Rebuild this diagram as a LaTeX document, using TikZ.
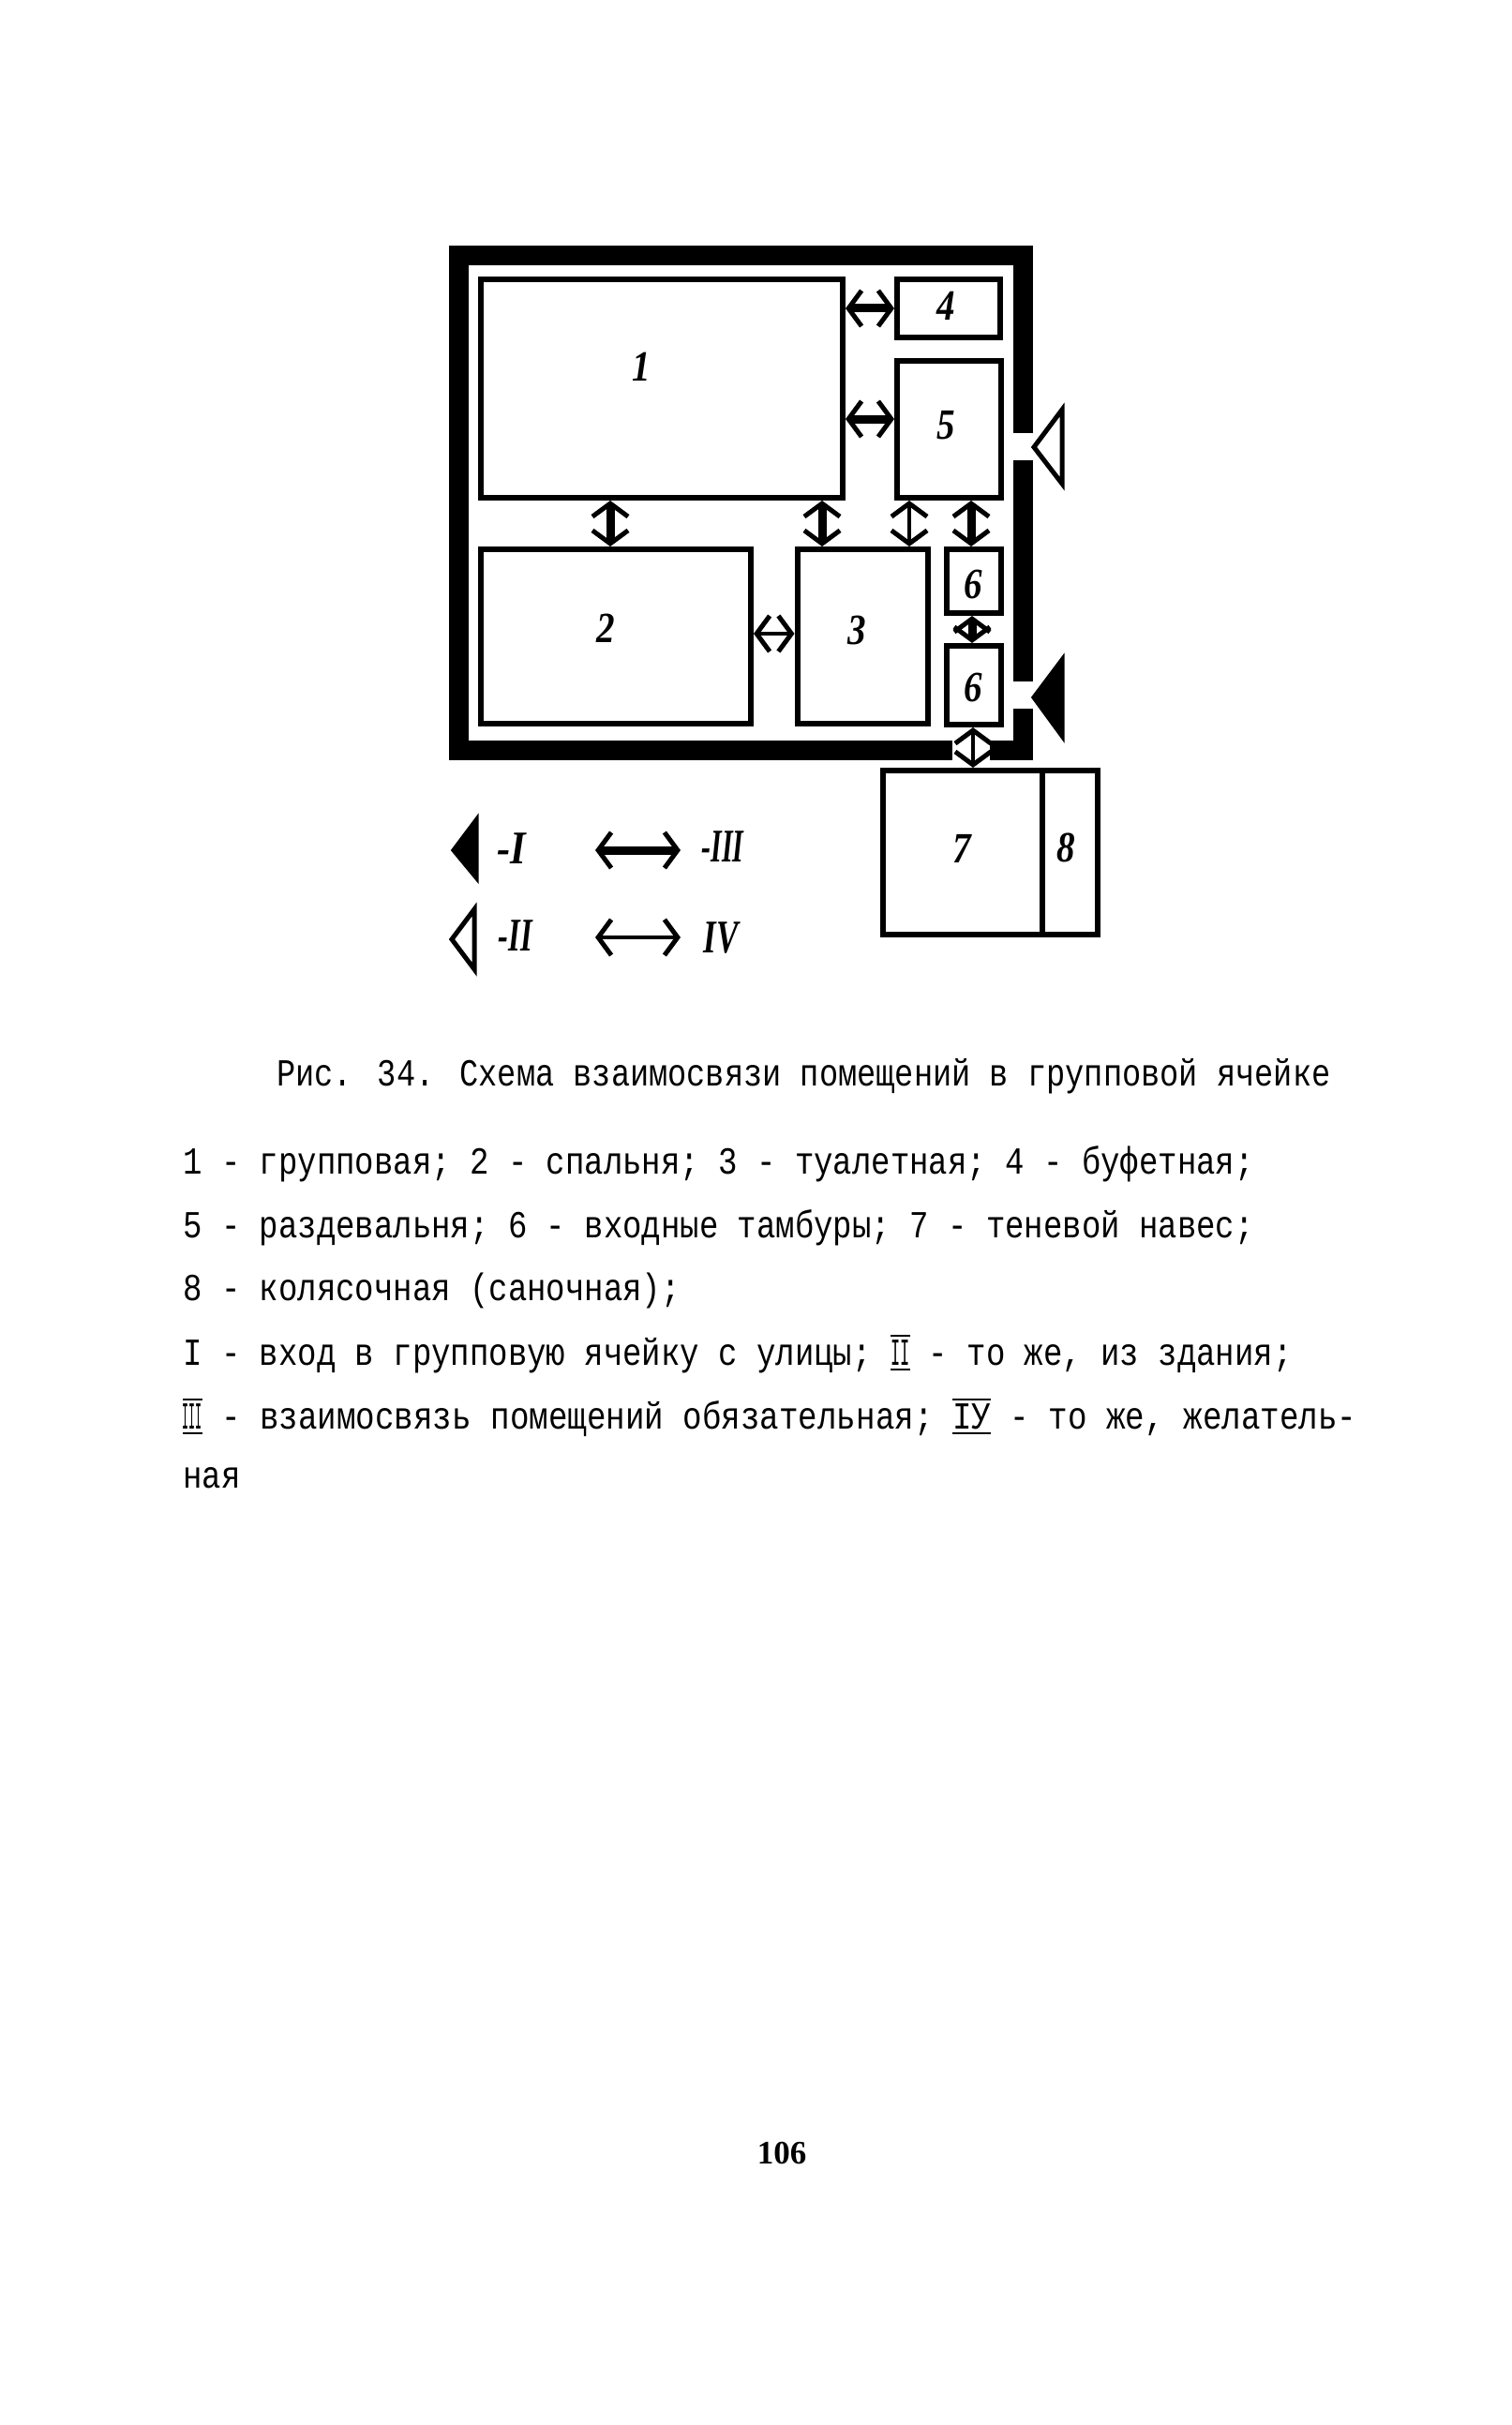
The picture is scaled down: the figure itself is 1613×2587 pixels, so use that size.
\documentclass[tikz,border=0pt]{standalone}
\usepackage{xcolor}
\usepackage{graphicx}
\usepackage{fontspec}
\usepackage{tikz}
\usetikzlibrary{positioning,arrows.meta,calc}
\setmainfont{Liberation Serif}
\newfontfamily\typewr{Liberation Mono}
\newcommand{\typeline}[2][1]{\scalebox{#1}[1.2]{\fontsize{34}{40}\selectfont\typewr #2}}
\newcommand{\ruled}[2]{\makebox[#1][l]{\rlap{\rule[-5pt]{#1}{2pt}}\rlap{\rule[25pt]{#1}{2pt}}\makebox[#1]{#2}}}

\begin{document}
\begin{tikzpicture}[
x=1pt,
y=-1pt,
room/.style={draw=black, line width=6pt, inner sep=0pt},
wall/.style={draw=black, line width=21pt, line join=miter},
num/.style={inner sep=0pt, xscale=.85, font=\fontsize{46}{46}\selectfont\bfseries\itshape},
roman/.style={inner sep=0pt, font=\fontsize{50}{50}\selectfont\bfseries\itshape},
entrance/.style={draw=black, line width=5pt, line join=miter},
linkmain/.style={{Straight Barb[length=14pt,width=38pt,line width=5pt]}-{Straight Barb[length=14pt,width=38pt,line width=5pt]}, line width=9pt, draw=black},
linkopt/.style={{Straight Barb[length=14pt,width=38pt,line width=5pt]}-{Straight Barb[length=14pt,width=38pt,line width=5pt]}, line width=4pt, draw=black},
textline/.style={anchor=base west, inner sep=0pt}
]
\useasboundingbox (0,0) rectangle (1613,2587);
\draw[wall] (1091.5,462) -- (1091.5,272.5) -- (489,272.5) -- (489,800) -- (1016,800);
\draw[wall] (1091.5,491) -- (1091.5,727);
\draw[wall] (1091.5,756) -- (1091.5,800) -- (1056,800);
\node[room, minimum width=386pt, minimum height=233pt] (r1) at (706,414.5) {};
\node[room, minimum width=288pt, minimum height=186pt] (r2) at (657,679) {};
\node[room, minimum width=139pt, minimum height=186pt] (r3) at (920,679) {};
\node[room, minimum width=110pt, minimum height=62pt] (r4) at (1012,329) {};
\node[room, minimum width=111pt, minimum height=146pt] (r5) at (1012.5,458) {};
\node[room, minimum width=58pt, minimum height=68pt] (r6a) at (1039,620) {};
\node[room, minimum width=58pt, minimum height=84pt] (r6b) at (1039,731) {};
\node[room, minimum width=170pt, minimum height=175pt] (r7) at (1027,909.5) {};
\node[room, minimum width=59pt, minimum height=175pt] (r8) at (1141.5,909.5) {};
\node[num] (n1) at (684,391) {1};
\node[num] (n2) at (646,670) {2};
\node[num] (n3) at (914,672) {3};
\node[num] (n4) at (1009,326) {4};
\node[num] (n5) at (1009,454) {5};
\node[num] (n6a) at (1038,623) {6};
\node[num] (n6b) at (1038,733) {6};
\node[num] (n7) at (1026,905) {7};
\node[num] (n8) at (1137,904) {8};
\draw[linkmain] (r1.east |- r4) -- (r4.west);
\draw[linkmain] (r1.east |- 0,447) -- (r5.west |- 0,447);
\draw[linkmain] (r1.south -| 651,0) -- (r2.north -| 651,0);
\draw[linkmain] (r1.south -| 877,0) -- (r3.north -| 877,0);
\draw[linkopt] (r5.south -| 970,0) -- (r3.north -| 970,0);
\draw[linkmain] (r5.south -| 1036,0) -- (r6a.north -| 1036,0);
\draw[linkmain] (r6a.south -| 1037,0) -- (r6b.north -| 1037,0);
\draw[linkopt] (r2.east |- 0,676) -- (r3.west |- 0,676);
\draw[linkopt] (r6b.south -| 1038,0) -- (r7.north -| 1038,0);
\draw[entrance] (1133,437) -- (1103,477) -- (1133,516) -- cycle;
\draw[entrance, fill=black] (1133,704) -- (1103,744) -- (1133,785) -- cycle;
\draw[entrance, fill=black] (508,875) -- (484,907) -- (508,936) -- cycle;
\draw[entrance] (506,970) -- (482,1002) -- (506,1034) -- cycle;
\coordinate (a3w) at (635,907);
\coordinate (a3e) at (726,907);
\coordinate (a4w) at (635,1000);
\coordinate (a4e) at (726,1000);
\draw[linkmain] (a3w) -- (a3e);
\draw[linkopt] (a4w) -- (a4e);
\node[roman, xscale=.85] (l1) at (546,905) {-I};
\node[roman, xscale=.65] (l2) at (550,998) {-II};
\node[roman, xscale=.6] (l3) at (771,903) {-III};
\node[roman, xscale=.7] (l4) at (769,1000) {IV};
\node[textline] (t0) at (295,1158) {\typeline[.99]{Рис. 34. Схема взаимосвязи помещений в групповой ячейке}};
\node[textline] (t1) at (195,1252) {\typeline{1 - групповая; 2 - спальня; 3 - туалетная; 4 - буфетная;}};
\node[textline] (t2) at (195,1320) {\typeline{5 - раздевальня; 6 - входные тамбуры; 7 - теневой навес;}};
\node[textline] (t3) at (195,1387) {\typeline{8 - колясочная (саночная);}};
\node[textline] (t4) at (195,1456) {\typeline{I - вход в групповую ячейку с улицы; \ruled{20.4pt}{\scalebox{.5}[1]{II}} - то же, из здания;}};
\node[textline] (t5) at (195,1524) {\typeline[1.006]{\ruled{20.4pt}{\scalebox{.34}[1]{III}} - взаимосвязь помещений обязательная; \ruled{40.8pt}{IУ} - то же, желатель-}};
\node[textline] (t6) at (195,1587) {\typeline{ная}};
\node[inner sep=0pt, font=\fontsize{35}{35}\selectfont\bfseries] (page) at (834,2297) {106};
\end{tikzpicture}
\end{document}
